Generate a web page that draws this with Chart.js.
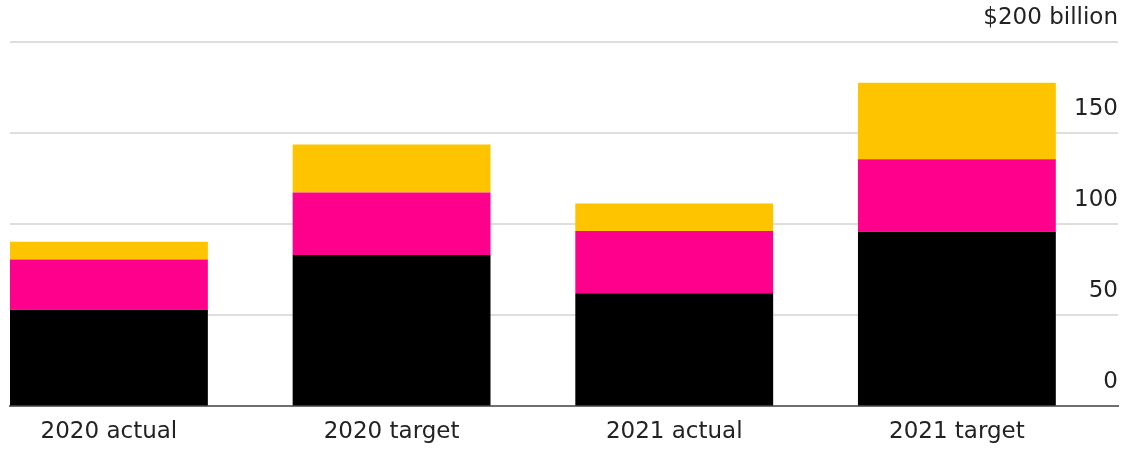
<!DOCTYPE html>
<html>
<head>
<meta charset="utf-8">
<script src="https://cdn.jsdelivr.net/npm/chart.js@4/dist/chart.umd.min.js"></script>
<style>
  html, body { margin: 0; padding: 0; background: #fff; }
  #wrap { width: 1132px; height: 449px; }
</style>
</head>
<body>
<div id="wrap"><canvas id="chart"></canvas></div>
<script>
const categories = ['2020 actual', '2020 target', '2021 actual', '2021 target'];
const blackValues = [53.1, 83.1, 62.1, 95.8];
const pinkValues = [27.5, 34.3, 34.2, 39.9];
const yellowValues = [9.7, 26.4, 15.1, 41.9];
const yTicks = [0, 50, 100, 150, 200];

const FONT = { family: '"DejaVu Sans", sans-serif', size: 23 };

function toPoints(values) {
  return values.map((v, i) => ({ x: i, y: v }));
}

new Chart(document.getElementById('chart').getContext('2d'), {
  type: 'bar',
  data: {
    datasets: [
      { data: toPoints(blackValues), backgroundColor: '#000000' },
      { data: toPoints(pinkValues), backgroundColor: '#ff008c' },
      { data: toPoints(yellowValues), backgroundColor: '#fec400' }
    ]
  },
  options: {
    responsive: true,
    maintainAspectRatio: false,
    animation: false,
    layout: { padding: { left: 10, right: 14, top: 42, bottom: -9 } },
    plugins: { legend: { display: false }, tooltip: { enabled: false } },
    datasets: { bar: { barPercentage: 1, categoryPercentage: 0.7 } },
    scales: {
      x: {
        type: 'linear',
        stacked: true,
        offset: false,
        min: -0.35,
        max: 3.57,
        afterBuildTicks: axis => { axis.ticks = categories.map((c, i) => ({ value: i })); },
        grid: { display: false, drawTicks: false },
        border: { display: true, color: '#6f6f6f', width: 2 },
        ticks: {
          autoSkip: false,
          maxRotation: 0,
          padding: 12,
          color: '#222',
          font: FONT,
          callback: v => categories[v]
        }
      },
      y: {
        position: 'right',
        stacked: true,
        min: 0,
        max: 200,
        afterBuildTicks: axis => { axis.ticks = yTicks.map(v => ({ value: v })); },
        grid: {
          color: ctx => ctx.tick.value === 0 ? 'rgba(0,0,0,0)' : '#dedede',
          lineWidth: 2,
          drawTicks: false
        },
        border: { display: false },
        ticks: {
          mirror: true,
          padding: 0,
          labelOffset: -24,
          color: '#222',
          font: FONT,
          callback: v => v === 200 ? '$200 billion' : String(v)
        }
      }
    }
  }
});
</script>
</body>
</html>
